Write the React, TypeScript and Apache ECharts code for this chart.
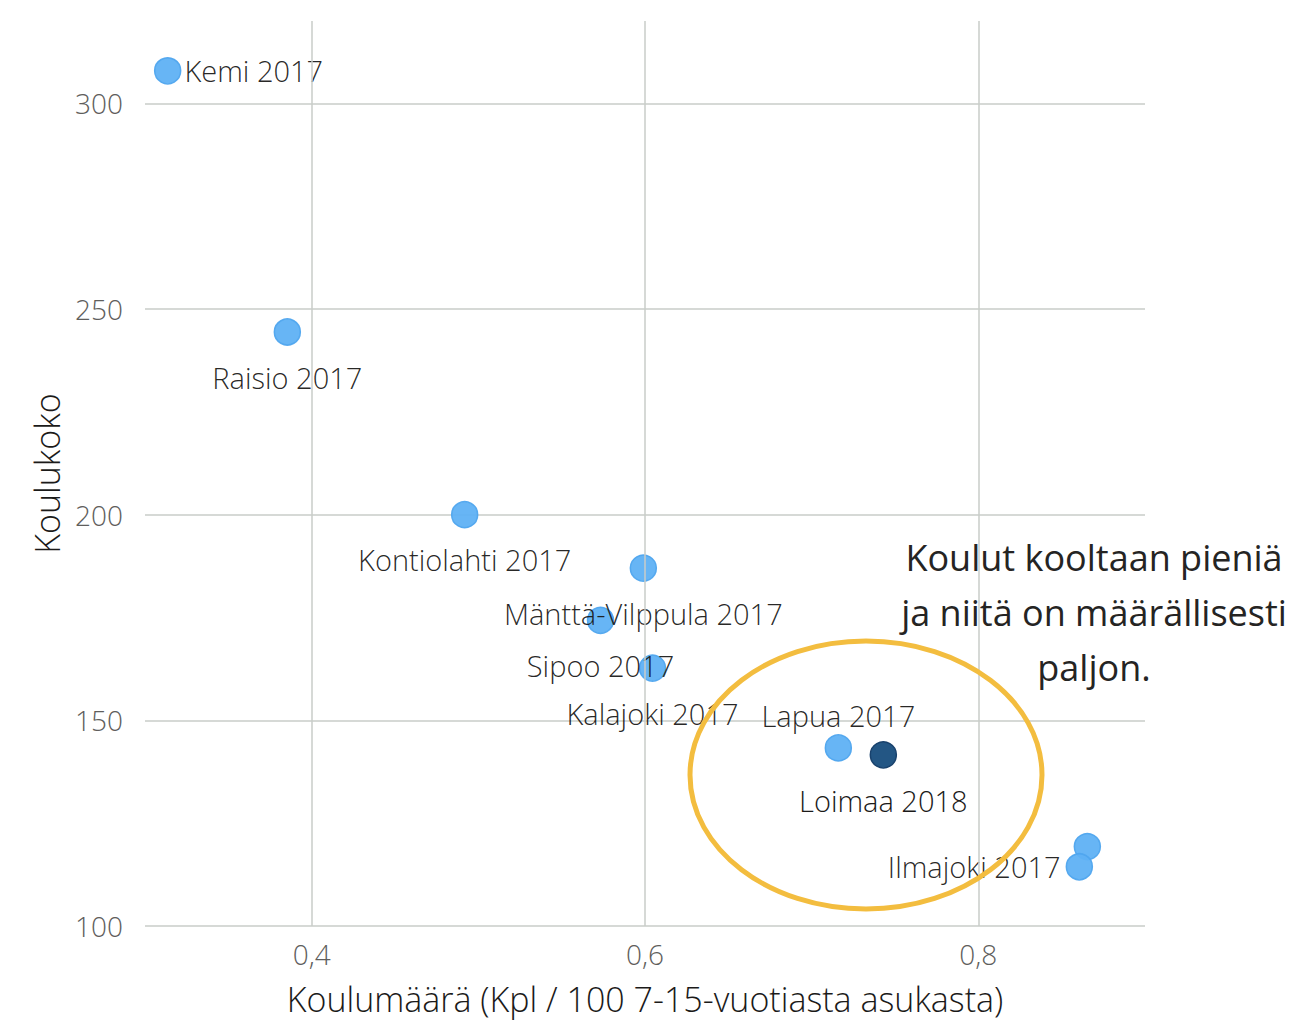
import React, { useEffect, useRef } from "react";
import * as echarts from "echarts";

// ---- data ----
const names = [
  "Kemi 2017",
  "Raisio 2017",
  "Kontiolahti 2017",
  "Mänttä-Vilppula 2017",
  "Sipoo 2017",
  "Kalajoki 2017",
  "Lapua 2017",
  "Loimaa 2018",
  "",
  "Ilmajoki 2017",
];
const schoolsPer100 = [0.3136, 0.3854, 0.4918, 0.599, 0.5733, 0.6045, 0.716, 0.743, 0.8654, 0.8606];
const schoolSize = [307.9, 244.4, 200.0, 187.0, 174.3, 162.7, 143.3, 141.6, 119.3, 114.4];
const highlighted = "Loimaa 2018";
const xGridValues = [0.4, 0.6, 0.8];
const xTitle = "Koulumäärä (Kpl / 100 7-15-vuotiasta asukasta)";
const yTitle = "Koulukoko";
const noteLines = ["Koulut kooltaan pieniä", "ja niitä on määrällisesti", "paljon."];

// ---- styling ----
const labelPlacement: Record<string, string> = {
  "Kemi 2017": "right",
  "Lapua 2017": "top",
  "Ilmajoki 2017": "left",
};
const FONT = "'Open Sans', 'Noto Sans', sans-serif";
const WEIGHT = 300;
const GRID_COLOR = "#c8ccc8";
const TEXT_DARK = "#1b1a19";

export default function App() {
  const ref = useRef<HTMLDivElement>(null);
  useEffect(() => {
    if (!ref.current) return;
    const chart = echarts.init(ref.current, undefined, { renderer: "svg" });

    const data = names.map((n, i) => {
      const pos = labelPlacement[n] || "bottom";
      const isHi = n === highlighted;
      let distance = 17;
      let offset: number[] = [0, 0];
      if (pos === "top") distance = 4;
      if (pos === "right") { distance = 3; offset = [0, 8]; }
      if (pos === "left") { distance = 5; offset = [0, 7]; }
      return {
        name: n,
        value: [schoolsPer100[i], schoolSize[i]],
        itemStyle: isHi
          ? { color: "#235684", borderColor: "#19426d", borderWidth: 1.5, opacity: 1 }
          : { color: "#5fb1f4", borderColor: "#4fa5ee", borderWidth: 1.5, opacity: 0.95 },
        label: {
          show: n !== "",
          position: pos,
          distance,
          offset,
        },
      };
    });

    chart.setOption({
      animation: false,
      backgroundColor: "#ffffff",
      textStyle: { fontFamily: FONT, fontWeight: WEIGHT },
      grid: { left: 145, right: 167, top: 21, bottom: 97, containLabel: false },
      xAxis: {
        type: "value",
        min: 0.3,
        max: 0.9,
        interval: 0.1,
        name: xTitle,
        nameLocation: "middle",
        nameGap: 56,
        nameTextStyle: { fontSize: 34, color: TEXT_DARK, fontFamily: FONT, fontWeight: WEIGHT },
        axisLine: { show: false },
        axisTick: { show: false },
        splitLine: { show: false },
        axisLabel: {
          fontSize: 28,
          color: "#605e5c",
          margin: 14,
          fontFamily: FONT,
          fontWeight: WEIGHT,
          showMinLabel: false,
          showMaxLabel: false,
          formatter: (v: number) => {
            const r = Math.round(v * 10);
            return xGridValues.some((g) => Math.round(g * 10) === r)
              ? (r / 10).toFixed(1).replace(".", ",")
              : "";
          },
        },
      },
      yAxis: {
        type: "value",
        min: 100,
        max: 320,
        interval: 50,
        name: yTitle,
        nameLocation: "middle",
        nameGap: 80,
        nameTextStyle: { fontSize: 34, color: TEXT_DARK, fontFamily: FONT, fontWeight: WEIGHT },
        axisLine: { show: false },
        axisTick: { show: false },
        axisLabel: {
          fontSize: 28,
          color: "#605e5c",
          margin: 22,
          fontFamily: FONT,
          fontWeight: WEIGHT,
          showMaxLabel: false,
        },
        splitLine: {
          show: true,
          showMaxLine: false,
          lineStyle: { color: GRID_COLOR, width: 1.5 },
        },
      },
      graphic: [
        {
          type: "ellipse",
          shape: { cx: 866, cy: 775, rx: 176, ry: 134 },
          style: { fill: "none", stroke: "#f3bd3f", lineWidth: 5 },
          z: 10,
        },
        {
          type: "text",
          x: 1094,
          y: 530,
          style: {
            text: noteLines.join("\n"),
            fontSize: 36,
            lineHeight: 55,
            fontFamily: FONT,
            fontWeight: 400,
            fill: "#252423",
            textAlign: "center",
          },
          z: 10,
        },
      ],
      series: [
        {
          type: "scatter",
          data: [],
          z: 1,
          silent: true,
          markLine: {
            silent: true,
            symbol: "none",
            label: { show: false },
            lineStyle: { color: GRID_COLOR, width: 1.5, type: "solid" },
            data: xGridValues.map((v) => ({ xAxis: v })),
          },
        },
        {
          type: "scatter",
          z: 3,
          symbolSize: 26,
          data,
          label: {
            show: true,
            formatter: "{b}",
            fontSize: 29,
            color: TEXT_DARK,
            fontFamily: FONT,
            fontWeight: WEIGHT,
          },
          labelLayout: { hideOverlap: false },
        },
      ],
    });

    return () => chart.dispose();
  }, []);

  return (
    <div
      ref={ref}
      style={{ position: "fixed", left: 0, top: 0, width: 1312, height: 1023, background: "#fff" }}
    />
  );
}
